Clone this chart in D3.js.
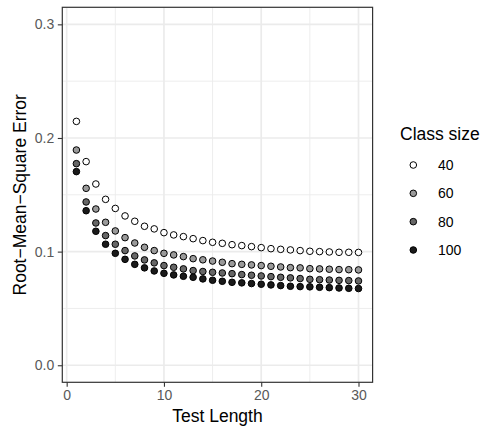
<!DOCTYPE html>
<html><head><meta charset="utf-8">
<script src="https://cdn.jsdelivr.net/npm/d3@7"></script>
<style>body{margin:0;background:#fff}svg{display:block;font-family:"Liberation Sans",Arial,sans-serif}</style>
</head><body><svg id="c" width="483" height="429"></svg>
<script>
const testLength = d3.range(1, 31);
const classSizes = ["40", "60", "80", "100"];
const fills = ["#FFFFFF", "#9A9A9A", "#666666", "#1A1A1A"];
const s40 = [0.2146,0.1792,0.1595,0.1460,0.1380,0.1314,0.1267,0.1223,0.1200,0.1167,0.1147,0.1132,0.1114,0.1097,0.1082,0.1073,0.1061,0.1053,0.1044,0.1035,0.1026,0.1020,0.1015,0.1009,0.1003,0.1000,0.0997,0.0994,0.0994,0.0993];
const s60 = [0.1894,0.1557,0.1375,0.1258,0.1182,0.1123,0.1076,0.1038,0.1009,0.0985,0.0971,0.0956,0.0938,0.0928,0.0917,0.0906,0.0894,0.0888,0.0883,0.0877,0.0871,0.0865,0.0859,0.0857,0.0850,0.0848,0.0845,0.0842,0.0841,0.0839];
const s80 = [0.1774,0.1437,0.1252,0.1141,0.1065,0.1009,0.0962,0.0927,0.0901,0.0877,0.0862,0.0848,0.0833,0.0825,0.0818,0.0812,0.0806,0.0798,0.0792,0.0786,0.0780,0.0774,0.0769,0.0763,0.0756,0.0753,0.0750,0.0747,0.0745,0.0742];
const s100 = [0.1704,0.1360,0.1179,0.1065,0.0985,0.0932,0.0888,0.0857,0.0830,0.0809,0.0795,0.0783,0.0774,0.0760,0.0748,0.0739,0.0730,0.0725,0.0719,0.0713,0.0707,0.0701,0.0695,0.0692,0.0690,0.0686,0.0683,0.0680,0.0677,0.0675];
const seriesValues = [s40, s60, s80, s100];
const xTicks = [0, 10, 20, 30];
const xMinor = [5, 15, 25];
const yTicks = [0, 0.1, 0.2, 0.3];
const yMinor = [0.05, 0.15, 0.25];

const svg = d3.select("#c");
const L = 62.3, R = 372.6, T = 7.3, B = 382.3;
const x = d3.scaleLinear().domain([-0.45, 31.45]).range([L, R]);
const y = d3.scaleLinear().domain([-0.015, 0.315]).range([B, T]);
const PR = 3.3;

// grid
const g = svg.append("g");
g.selectAll(".xm").data(xMinor).enter().append("line")
  .attr("x1", d => x(d)).attr("x2", d => x(d)).attr("y1", T).attr("y2", B)
  .attr("stroke", "#EBEBEB").attr("stroke-width", 0.9);
g.selectAll(".ym").data(yMinor).enter().append("line")
  .attr("y1", d => y(d)).attr("y2", d => y(d)).attr("x1", L).attr("x2", R)
  .attr("stroke", "#EBEBEB").attr("stroke-width", 0.9);
g.selectAll(".xM").data(xTicks).enter().append("line")
  .attr("x1", d => x(d)).attr("x2", d => x(d)).attr("y1", T).attr("y2", B)
  .attr("stroke", "#EBEBEB").attr("stroke-width", 1.7);
g.selectAll(".yM").data(yTicks).enter().append("line")
  .attr("y1", d => y(d)).attr("y2", d => y(d)).attr("x1", L).attr("x2", R)
  .attr("stroke", "#EBEBEB").attr("stroke-width", 1.7);

// points
classSizes.forEach((cs, i) => {
  svg.append("g").selectAll("circle").data(seriesValues[i]).enter().append("circle")
    .attr("cx", (d, j) => x(testLength[j])).attr("cy", d => y(d)).attr("r", PR)
    .attr("fill", fills[i]).attr("stroke", "#000").attr("stroke-width", 1);
});

// border
svg.append("rect").attr("x", L).attr("y", T).attr("width", R - L).attr("height", B - T)
  .attr("fill", "none").attr("stroke", "#333333").attr("stroke-width", 1.2);

// axes
const xAxis = svg.append("g").attr("transform", `translate(0,${B})`)
  .call(d3.axisBottom(x).tickValues(xTicks).tickSize(4.5).tickPadding(3).tickFormat(d3.format("d")));
const yAxis = svg.append("g").attr("transform", `translate(${L},0)`)
  .call(d3.axisLeft(y).tickValues(yTicks).tickSize(4.5).tickPadding(3.5).tickFormat(d3.format(".1f")));
[xAxis, yAxis].forEach(a => {
  a.select(".domain").remove();
  a.selectAll(".tick line").attr("stroke", "#333333").attr("stroke-width", 1.1);
  a.selectAll(".tick text").attr("fill", "#595959").style("font-size", "14px")
    .style("font-family", "'Liberation Sans',Arial,sans-serif");
});

// axis titles
svg.append("text").attr("x", (L + R) / 2).attr("y", 422).attr("text-anchor", "middle")
  .style("font-size", "17.5px").attr("fill", "#000").text("Test Length");
svg.append("text").attr("transform", `translate(25.5,${(T + B) / 2}) rotate(-90)`)
  .attr("text-anchor", "middle").style("font-size", "17.5px").attr("fill", "#000")
  .text("Root\u2212Mean\u2212Square Error");

// legend
const lg = svg.append("g");
lg.append("text").attr("x", 400).attr("y", 139.5).style("font-size", "17.5px").attr("fill", "#000").text("Class size");
const keyY = d3.scalePoint().domain(classSizes).range([165, 250]);
classSizes.forEach((cs, i) => {
  lg.append("circle").attr("cx", 413.3).attr("cy", keyY(cs)).attr("r", PR)
    .attr("fill", fills[i]).attr("stroke", "#000").attr("stroke-width", 1);
  lg.append("text").attr("x", 438).attr("y", keyY(cs)).attr("dy", "0.35em")
    .style("font-size", "14px").attr("fill", "#000").text(cs);
});
</script></body></html>
